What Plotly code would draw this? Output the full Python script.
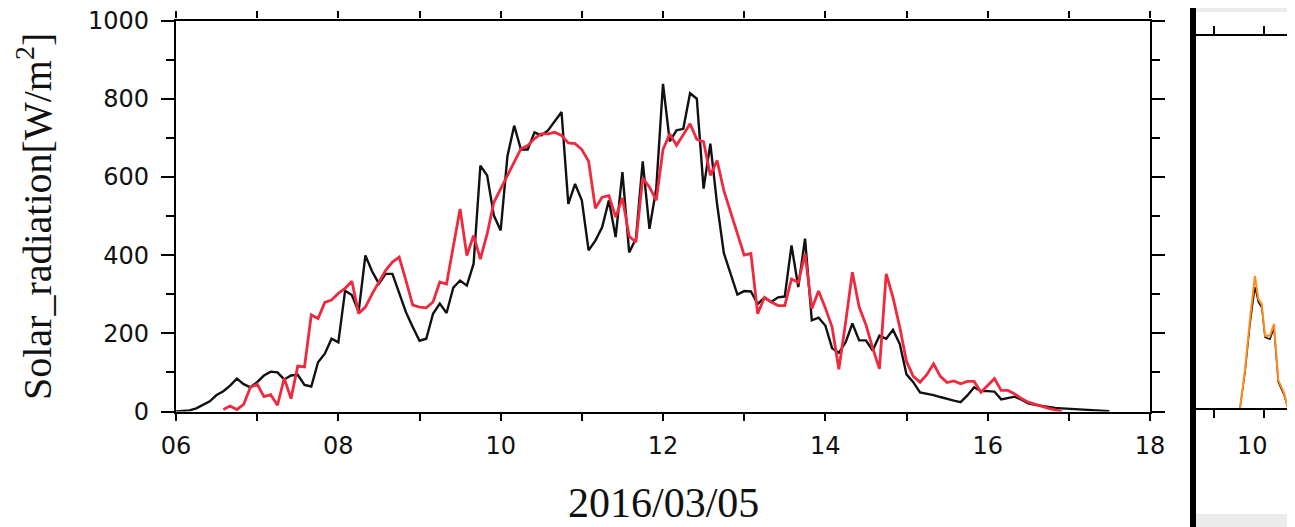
import plotly.graph_objects as go

# ---------------- data ----------------
# 5-minute samples starting 06:00 (hours as float)
black_start_min = 0      # minutes after 06:00
black_vals = [0, 1, 3, 8, 16, 26, 42, 52, 66, 84, 70, 62, 75, 92, 102, 100, 82, 92, 94, 68,
              64, 126, 148, 186, 177, 309, 298, 255, 399, 358, 327, 352, 352, 305, 254, 216, 181, 186, 250, 276,
              252, 317, 335, 322, 378, 629, 604, 501, 463, 653, 731, 670, 670, 714, 706, 719, 742, 766, 531, 582,
              540, 412, 437, 471, 540, 446, 612, 407, 442, 640, 467, 570, 838, 691, 719, 723, 814, 800, 570, 685,
              530, 405, 352, 299, 308, 307, 275, 291, 280, 292, 294, 425, 318, 442, 233, 240, 220, 162, 150, 177,
              225, 182, 182, 156, 194, 186, 209, 173, 95, 75, 49, 46, 42, 37, 32, 28, 24, 41, 62, 52,
              52, 51, 31, 35, 38, 30, 21, 17, 14, 11, 9, 8, 7, 6, 5, 4, 3, 2, 1]

red_start_min = 35
red_vals = [5, 14, 5, 18, 62, 70, 38, 43, 16, 85, 33, 116, 114, 247, 238, 279, 285, 302, 315, 333,
            251, 267, 301, 331, 361, 382, 395, 335, 272, 267, 265, 280, 331, 326, 420, 518, 399, 450, 390, 454,
            535, 568, 605, 638, 672, 680, 698, 710, 710, 714, 706, 687, 685, 670, 640, 520, 548, 552, 497, 546,
            448, 433, 597, 574, 540, 670, 710, 681, 708, 736, 696, 690, 604, 642, 565, 510, 455, 400, 404, 250,
            292, 280, 271, 271, 339, 330, 403, 263, 308, 265, 216, 108, 228, 356, 267, 222, 162, 109, 352, 292,
            216, 128, 90, 75, 94, 122, 90, 74, 78, 71, 77, 77, 49, 66, 84, 54, 54, 45, 33, 24,
            18, 13, 8, 4, 0]

black_t = [6 + (black_start_min + 5 * i) / 60 for i in range(len(black_vals))]
red_t = [6 + (red_start_min + 5 * i) / 60 for i in range(len(red_vals))]

x_tickvals = list(range(6, 19))
x_ticktext = ["06", "", "08", "", "10", "", "12", "", "14", "", "16", "", "18"]
y_tickvals = [0, 200, 400, 600, 800, 1000]

# second (cropped) panel
p2_orange_t = [9.04, 9.24, 9.44, 9.64, 9.77, 9.91, 10.04, 10.24, 10.40, 10.57, 10.80, 10.96]
p2_orange_v = [0, 102, 239, 355, 293, 280, 194, 194, 226, 75, 40, 0]
p2_black_t = [9.04, 9.24, 9.44, 9.64, 9.77, 9.91, 10.04, 10.24, 10.40, 10.57, 10.80, 10.96]
p2_black_v = [0, 95, 225, 325, 285, 270, 190, 185, 215, 70, 35, 0]
p2_tickvals = [8, 10]
p2_label = "10"

# page offset of the plot div (body margin) -> work in screen pixels
OFF = 8
W, H = 1295 - OFF, 527 - OFF
def px(x):
    return (x - OFF) / W
def py(y):
    return 1 - (y - OFF) / H

fig = go.Figure()
fig.add_trace(go.Scatter(x=black_t, y=black_vals, mode="lines",
                         line=dict(color="#111111", width=2.4), xaxis="x", yaxis="y"))
fig.add_trace(go.Scatter(x=red_t, y=red_vals, mode="lines",
                         line=dict(color="#ef2a3e", width=2.8), xaxis="x", yaxis="y"))
fig.add_trace(go.Scatter(x=p2_black_t, y=p2_black_v, mode="lines",
                         line=dict(color="#111111", width=1.5), xaxis="x2", yaxis="y2"))
fig.add_trace(go.Scatter(x=p2_orange_t, y=p2_orange_v, mode="lines",
                         line=dict(color="#ff8c1a", width=2), xaxis="x2", yaxis="y2"))

tickfont = dict(family="DejaVu Sans, Liberation Sans, Arial, sans-serif", size=24, color="#111111")
serif = "Liberation Serif, Times New Roman, serif"

fig.update_layout(
    width=W, height=H,
    margin=dict(l=0, r=0, t=0, b=0),
    paper_bgcolor="white", plot_bgcolor="white",
    showlegend=False,
    xaxis=dict(domain=[px(176), px(1150)], range=[6, 18],
               tickvals=x_tickvals, ticktext=x_ticktext,
               ticks="outside", ticklen=7, tickwidth=1.5, tickcolor="black",
               showline=True, linewidth=2.2, linecolor="black", mirror="ticks",
               showgrid=False, zeroline=False, tickfont=tickfont,
               ticklabelstandoff=5, ticklabeloverflow="allow", automargin=False),
    yaxis=dict(domain=[py(411.5), py(20.5)], range=[0, 1000],
               tickvals=y_tickvals,
               ticks="outside", ticklen=13, tickwidth=1.5, tickcolor="black",
               minor=dict(dtick=100, ticks="outside", ticklen=8, tickwidth=1.5, tickcolor="black"),
               showline=True, linewidth=2.2, linecolor="black", mirror="ticks",
               showgrid=False, zeroline=False, tickfont=tickfont,
               ticklabelstandoff=7, ticklabeloverflow="allow", automargin=False),
    xaxis2=dict(domain=[px(1195), px(1288)], range=[7.24, 10.96], anchor="y2",
                tickvals=p2_tickvals, showticklabels=False,
                ticks="outside", ticklen=8, tickwidth=1.5, tickcolor="black",
                showline=True, linewidth=2, linecolor="black", mirror="ticks",
                showgrid=False, zeroline=False, automargin=False),
    yaxis2=dict(domain=[py(408), py(36)], range=[0, 1000], anchor="x2", side="right",
                tickvals=list(range(0, 1001, 100)), showticklabels=False,
                ticks="outside", ticklen=8, tickwidth=1.5, tickcolor="black",
                showline=True, linewidth=2, linecolor="black", mirror=True,
                showgrid=False, zeroline=False, automargin=False),
    shapes=[
        dict(type="rect", xref="paper", yref="paper", x0=px(1196), x1=1, y0=py(12), y1=1,
             fillcolor="#ececec", line=dict(width=0), layer="below"),
        dict(type="rect", xref="paper", yref="paper", x0=px(1196), x1=1, y0=0, y1=py(514),
             fillcolor="#ececec", line=dict(width=0), layer="below"),
        dict(type="line", xref="paper", yref="paper", x0=px(1193), x1=px(1193), y0=0, y1=1,
             line=dict(color="black", width=6)),
    ],
    annotations=[
        dict(text="2016/03/05", xref="paper", yref="paper", x=px(663), y=py(503),
             showarrow=False, xanchor="center", yanchor="middle",
             font=dict(family=serif, size=42, color="#111111")),
        dict(text="Solar_radiation[W/m<sup>2</sup>]", xref="paper", yref="paper", x=px(34), y=py(217),
             showarrow=False, textangle=-90, xanchor="center", yanchor="middle",
             font=dict(family=serif, size=40, color="#111111")),
        dict(text=p2_label, xref="paper", yref="paper", x=px(1252), y=py(446),
             showarrow=False, xanchor="center", yanchor="middle",
             font=tickfont),
    ],
)

fig.write_html("out.html")
